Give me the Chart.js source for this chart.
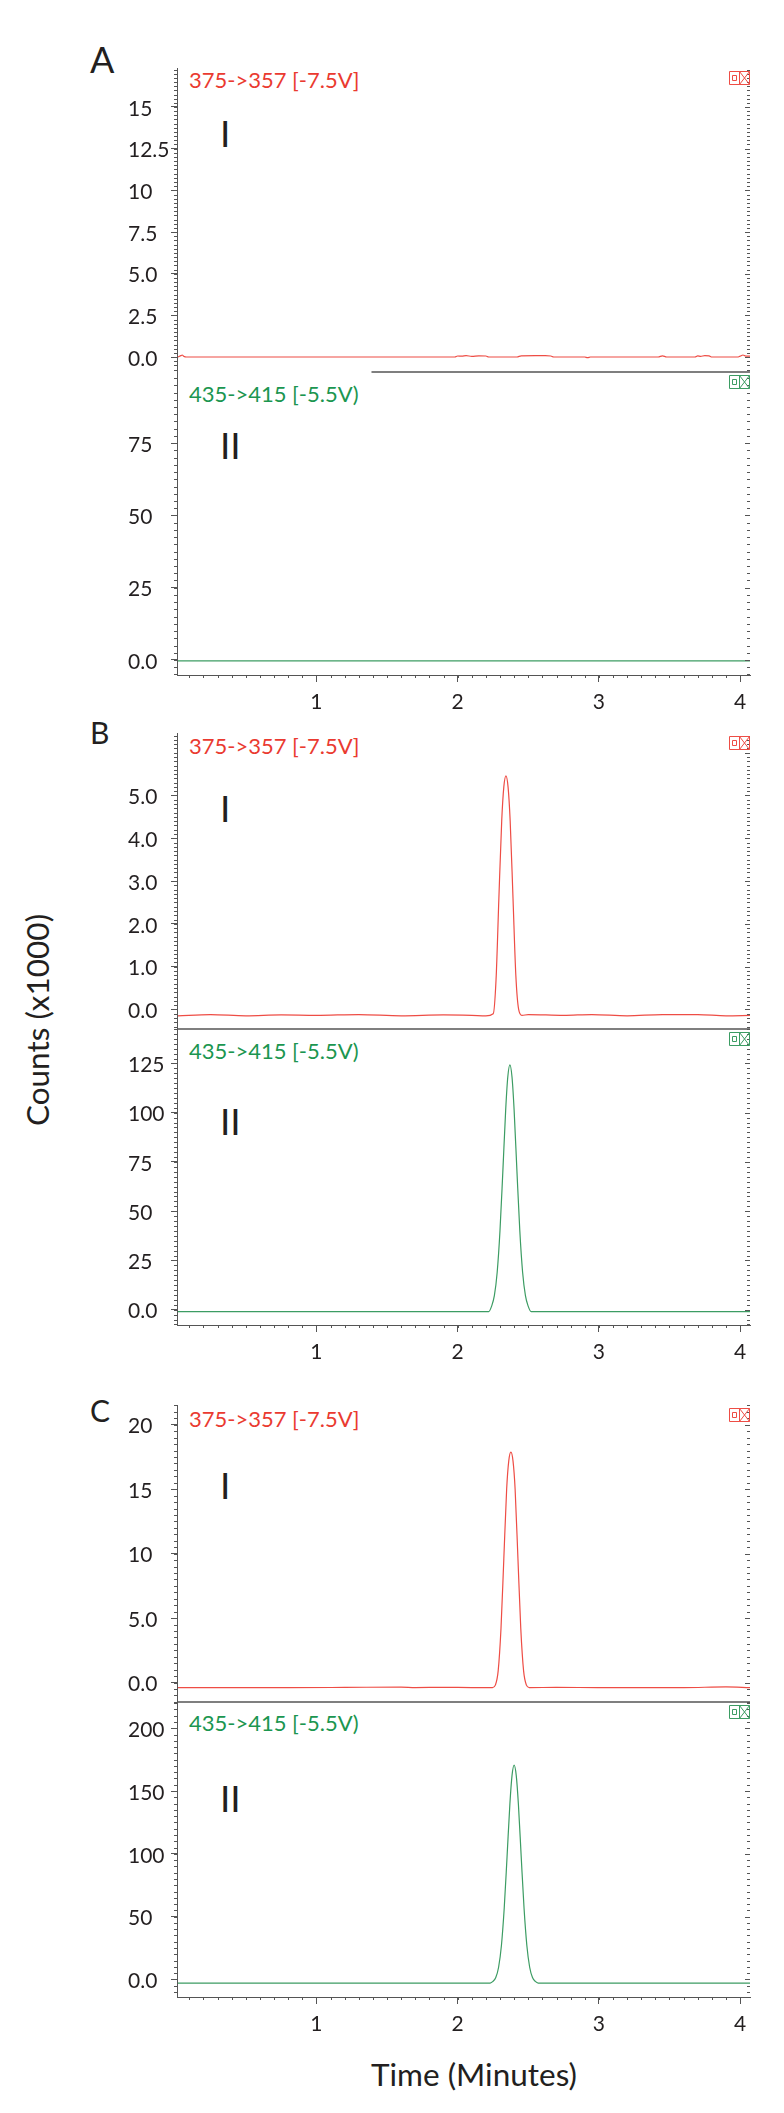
<!DOCTYPE html>
<html>
<head>
<meta charset="utf-8">
<script src="https://cdn.jsdelivr.net/npm/chart.js@4.4.1/dist/chart.umd.min.js"></script>
<style>
  html, body { margin: 0; padding: 0; background: #fff; }
  body { position: relative; width: 784px; height: 2113px; overflow: hidden; font-family: Lato, "Open Sans", sans-serif; color: #231f20; }
  canvas { position: absolute; left: 0; }
  .txt { position: absolute; white-space: nowrap; line-height: 1; }
  .painel { font-size: 36px; }
  .num { font-size: 37px; }
  .canal { font-size: 22px; }
  .vermelho { color: #ea3a30; }
  .verde { color: #1b9650; }
  .titulo { font-size: 31.5px; }
</style>
</head>
<body>

<div class="txt painel" style="left:90px; top:41px;">A</div>
<div class="txt painel" style="left:90px; top:717px; font-size:30px;">B</div>
<div class="txt painel" style="left:90px; top:1395px; font-size:30px;">C</div>

<div class="txt num" style="left:220px; top:114px;">I</div>
<div class="txt num" style="left:220px; top:426px;">II</div>
<div class="txt num" style="left:220px; top:789px;">I</div>
<div class="txt num" style="left:220px; top:1102px;">II</div>
<div class="txt num" style="left:220px; top:1466px;">I</div>
<div class="txt num" style="left:220px; top:1779px;">II</div>

<div class="txt canal vermelho" style="left:189px; top:69px;">375-&gt;357 [-7.5V]</div>
<div class="txt canal verde" style="left:189px; top:383px;">435-&gt;415 [-5.5V)</div>
<div class="txt canal vermelho" style="left:189px; top:735px;">375-&gt;357 [-7.5V]</div>
<div class="txt canal verde" style="left:189px; top:1040px;">435-&gt;415 [-5.5V)</div>
<div class="txt canal vermelho" style="left:189px; top:1408px;">375-&gt;357 [-7.5V]</div>
<div class="txt canal verde" style="left:189px; top:1712px;">435-&gt;415 [-5.5V)</div>

<div class="txt titulo" style="left:38px; top:1020px; transform: translate(-50%, -50%) rotate(-90deg);">Counts (x1000)</div>
<div class="txt titulo" style="left:371px; top:2059px;">Time (Minutes)</div>

<script>
// eixo do tempo (minutos)
const xMin = 0.013;
const xMax = 4.07;
const xTicks = [1, 2, 3, 4];
const xLabels = ['1', '2', '3', '4'];

// Painel A - I (375->357)
const timeA1 = [0.02, 0.04, 0.05, 0.06, 0.08, 0.5, 1.0, 1.5, 1.98, 2.0, 2.03, 2.06, 2.1, 2.15, 2.2, 2.22, 2.42, 2.45, 2.55, 2.62, 2.66, 2.68, 2.9, 2.92, 2.94, 3.42, 3.45, 3.48, 3.68, 3.7, 3.72, 3.75, 3.78, 3.8, 3.98, 4.0, 4.02, 4.04, 4.07];
const countsA1 = [0.0, 0.08, 0.12, 0.05, 0.0, 0.0, 0.0, 0.0, 0.0, 0.06, 0.05, 0.08, 0.04, 0.07, 0.06, 0.0, 0.0, 0.07, 0.08, 0.08, 0.06, 0.0, 0.0, -0.04, 0.0, 0.0, 0.07, 0.0, 0.0, 0.07, 0.04, 0.08, 0.07, 0.0, 0.0, 0.05, 0.12, 0.05, 0.05];
const ticksA1 = [0, 2.5, 5, 7.5, 10, 12.5, 15];
const labelsA1 = ['0.0', '2.5', '5.0', '7.5', '10', '12.5', '15'];

// Painel A - II (435->415)
const timeA2 = [0.02, 1.0, 2.0, 3.0, 4.07];
const countsA2 = [-0.3, -0.3, -0.3, -0.3, -0.3];
const ticksA2 = [0, 25, 50, 75];
const labelsA2 = ['0.0', '25', '50', '75'];

// Painel B - I
const timeB1 = [0.02, 0.25, 0.5, 0.75, 1.0, 1.3, 1.6, 1.9, 2.1, 2.2, 2.252, 2.272, 2.292, 2.312, 2.327, 2.342, 2.357, 2.372, 2.392, 2.412, 2.432, 2.455, 2.5, 2.75, 2.95, 3.2, 3.45, 3.7, 3.9, 4.07];
const countsB1 = [-0.15, -0.12, -0.15, -0.13, -0.14, -0.12, -0.15, -0.13, -0.14, -0.15, -0.1, 0.7, 2.6, 4.4, 5.2, 5.46, 5.2, 4.4, 2.6, 0.8, 0.0, -0.14, -0.12, -0.14, -0.12, -0.15, -0.12, -0.12, -0.15, -0.14];
const ticksB1 = [0, 1, 2, 3, 4, 5];
const labelsB1 = ['0.0', '1.0', '2.0', '3.0', '4.0', '5.0'];

// Painel B - II
const timeB2 = [0.02, 0.5, 1.0, 1.5, 2.0, 2.22, 2.24, 2.26, 2.28, 2.30, 2.32, 2.34, 2.355, 2.37, 2.385, 2.40, 2.42, 2.44, 2.46, 2.48, 2.50, 2.52, 3.0, 3.5, 4.07];
const countsB2 = [-1.0, -1.0, -1.0, -1.0, -1.0, -1.0, 1.7, 7.1, 19.0, 40.3, 70.1, 101.2, 118.1, 124.3, 118.1, 101.2, 70.1, 40.3, 19.0, 7.1, 1.7, -1.0, -1.0, -1.0, -1.0];
const ticksB2 = [0, 25, 50, 75, 100, 125];
const labelsB2 = ['0.0', '25', '50', '75', '100', '125'];

// Painel C - I
const timeC1 = [0.02, 0.4, 0.8, 1.2, 1.6, 1.7, 1.9, 2.1, 2.247, 2.267, 2.287, 2.307, 2.327, 2.347, 2.362, 2.377, 2.392, 2.407, 2.427, 2.447, 2.467, 2.487, 2.507, 2.7, 3.0, 3.3, 3.6, 3.9, 4.07];
const countsC1 = [-0.39, -0.39, -0.4, -0.38, -0.35, -0.39, -0.37, -0.39, -0.39, -0.2, 0.9, 4.2, 9.6, 15.0, 17.2, 17.88, 17.2, 15.0, 9.6, 4.2, 0.9, -0.2, -0.39, -0.38, -0.39, -0.39, -0.39, -0.34, -0.39];
const ticksC1 = [0, 5, 10, 15, 20];
const labelsC1 = ['0.0', '5.0', '10', '15', '20'];

// Painel C - II
const timeC2 = [0.02, 0.5, 1.0, 1.5, 2.0, 2.23, 2.25, 2.27, 2.29, 2.31, 2.33, 2.35, 2.37, 2.385, 2.40, 2.415, 2.43, 2.45, 2.47, 2.49, 2.51, 2.53, 2.55, 2.57, 3.0, 3.5, 4.07];
const countsC2 = [-2.9, -2.9, -2.9, -2.9, -2.9, -2.9, -1.6, 1.5, 9.7, 27.0, 57.0, 97.9, 139.9, 162.3, 170.6, 162.3, 139.9, 97.9, 57.0, 27.0, 9.7, 1.5, -1.6, -2.9, -2.9, -2.9, -2.9];
const ticksC2 = [0, 50, 100, 150, 200];
const labelsC2 = ['0.0', '50', '100', '150', '200'];

// cores
const RED_LINE = '#ee4d45';
const GREEN_LINE = '#3c9c63';
const AXIS = '#555555';

// geometria (pixels da pagina)
const PAD = 24;
const EIXO_X_ALTURA = 44;
const LEFT = 177, RIGHT = 750, LABEL_LEFT = 128;

// plugin: ticks menores, separador, icone do canto
const decoracao = {
  id: 'decoracao',
  afterDraw(chart, args, opts) {
    const ctx = chart.ctx;
    const a = chart.chartArea;
    const y = chart.scales.y;
    const x = chart.scales.x;
    ctx.save();
    ctx.strokeStyle = AXIS;
    ctx.lineWidth = 1;
    ctx.beginPath();
    const k0 = Math.ceil(y.min / opts.passoY - 1e-9);
    const k1 = Math.floor(y.max / opts.passoY + 1e-9);
    for (let k = k0; k <= k1; k++) {
      const py = Math.round(y.getPixelForValue(k * opts.passoY)) + 0.5;
      const maior = k % 10 === 0;
      ctx.moveTo(a.left - 3, py);
      ctx.lineTo(a.left, py);
      ctx.moveTo(a.right - (maior ? 5 : 3), py);
      ctx.lineTo(a.right, py);
    }
    if (opts.eixoX) {
      const j0 = Math.ceil(xMin / 0.1), j1 = Math.floor(xMax / 0.1);
      for (let j = j0; j <= j1; j++) {
        const px = Math.round(x.getPixelForValue(j * 0.1)) + 0.5;
        ctx.moveTo(px, a.bottom);
        ctx.lineTo(px, a.bottom + 3);
      }
    }
    ctx.stroke();

    if (opts.separador !== undefined) {
      ctx.beginPath();
      ctx.lineWidth = 1.5;
      ctx.moveTo(x.getPixelForValue(opts.separador), a.bottom);
      ctx.lineTo(a.right, a.bottom);
      ctx.stroke();
    }

    // icone [o][x]
    const ix = Math.round(a.right - 21) + 0.5;
    const iy = Math.round(a.top + 3) + 0.5;
    ctx.strokeStyle = opts.corIcone;
    ctx.lineWidth = 1;
    ctx.beginPath();
    ctx.rect(ix, iy, 10, 13);
    ctx.rect(ix + 3, iy + 4, 4, 5);
    ctx.rect(ix + 10, iy, 10, 13);
    ctx.moveTo(ix + 10, iy);
    ctx.lineTo(ix + 20, iy + 13);
    ctx.moveTo(ix + 20, iy);
    ctx.lineTo(ix + 10, iy + 13);
    ctx.stroke();
    ctx.restore();
  }
};

function criarGrafico(p) {
  const canvas = document.createElement('canvas');
  const baixo = p.eixoX ? EIXO_X_ALTURA + 4 : PAD;
  const altura = (p.base - p.topo) + PAD + baixo;
  canvas.width = 784;
  canvas.height = altura;
  canvas.style.top = (p.topo - PAD) + 'px';
  canvas.style.width = '784px';
  canvas.style.height = altura + 'px';
  document.body.appendChild(canvas);

  const pontos = p.tempo.map((t, i) => ({ x: t, y: p.contagens[i] }));

  new Chart(canvas.getContext('2d'), {
    type: 'line',
    data: {
      datasets: [{
        data: pontos,
        borderColor: p.cor,
        borderWidth: 1.2,
        pointRadius: 0,
        fill: false,
        cubicInterpolationMode: 'monotone'
      }]
    },
    options: {
      responsive: false,
      animation: false,
      events: [],
      layout: { padding: { left: LABEL_LEFT, right: 784 - RIGHT, top: PAD, bottom: p.eixoX ? 4 : PAD } },
      plugins: {
        legend: { display: false },
        tooltip: { enabled: false },
        decoracao: { passoY: p.passoY, eixoX: p.eixoX, separador: p.separador, corIcone: p.cor }
      },
      scales: {
        x: {
          type: 'linear',
          display: p.eixoX,
          min: xMin,
          max: xMax,
          afterBuildTicks: s => { s.ticks = xTicks.map(v => ({ value: v })); },
          afterFit: s => { s.height = p.eixoX ? EIXO_X_ALTURA : 0; },
          grid: { drawOnChartArea: false, tickLength: 7, color: AXIS },
          border: { color: AXIS, width: 1 },
          ticks: {
            autoSkip: false, maxRotation: 0, padding: 8,
            color: '#231f20', font: { family: 'Lato', size: 21 },
            callback: (v, i) => xLabels[i]
          }
        },
        y: {
          type: 'linear',
          min: p.yMin,
          max: p.yMax,
          afterBuildTicks: s => { s.ticks = p.ticks.map(v => ({ value: v })); },
          afterFit: s => { s.width = LEFT - LABEL_LEFT; },
          grid: { drawOnChartArea: false, tickLength: 6, color: AXIS },
          border: { color: AXIS, width: 1 },
          ticks: {
            autoSkip: false, crossAlign: 'far', labelOffset: 2,
            color: '#231f20', font: { family: 'Lato', size: 21 },
            callback: (v, i) => p.rotulos[i]
          }
        }
      }
    },
    plugins: [decoracao]
  });
}

criarGrafico({ topo: 68, base: 372, tempo: timeA1, contagens: countsA1, ticks: ticksA1, rotulos: labelsA1, yMin: -0.90, yMax: 17.34, passoY: 0.25, cor: RED_LINE, eixoX: false, separador: 1.39 });
criarGrafico({ topo: 372, base: 675, tempo: timeA2, contagens: countsA2, ticks: ticksA2, rotulos: labelsA2, yMin: -5.19, yMax: 99.6, passoY: 2.5, cor: GREEN_LINE, eixoX: true });
criarGrafico({ topo: 733, base: 1029, tempo: timeB1, contagens: countsB1, ticks: ticksB1, rotulos: labelsB1, yMin: -0.458, yMax: 6.46, passoY: 0.1, cor: RED_LINE, eixoX: false, separador: xMin });
criarGrafico({ topo: 1029, base: 1325, tempo: timeB2, contagens: countsB2, ticks: ticksB2, rotulos: labelsB2, yMin: -7.77, yMax: 142.5, passoY: 2.5, cor: GREEN_LINE, eixoX: true });
criarGrafico({ topo: 1405, base: 1702, tempo: timeC1, contagens: countsC1, ticks: ticksC1, rotulos: labelsC1, yMin: -1.51, yMax: 21.53, passoY: 0.5, cor: RED_LINE, eixoX: false, separador: xMin });
criarGrafico({ topo: 1702, base: 1997, tempo: timeC2, contagens: countsC2, ticks: ticksC2, rotulos: labelsC2, yMin: -14.0, yMax: 220.9, passoY: 5, cor: GREEN_LINE, eixoX: true });
</script>
</body>
</html>
